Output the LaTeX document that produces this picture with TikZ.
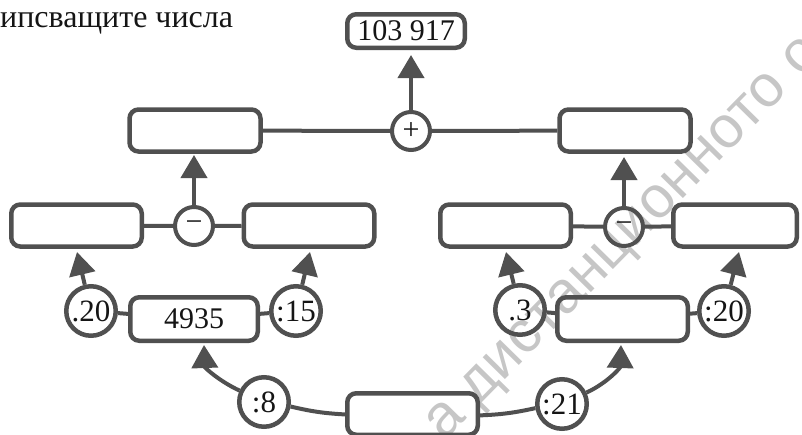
\documentclass[tikz,border=0pt]{standalone}
\usepackage{fontspec}
\setmainfont{Liberation Serif}
\newfontfamily\wmfamily{Liberation Sans}
\usetikzlibrary{arrows.meta}
\definecolor{lc}{HTML}{505050}
\definecolor{wm}{HTML}{C6C6C6}
\definecolor{tc}{HTML}{151515}

\begin{document}
\begin{tikzpicture}[x=1pt,y=-1pt,
  numbox/.style={draw=lc, line width=4.5pt, rounded corners=9pt,
    minimum width=131pt, minimum height=42pt, inner sep=0pt,
    text=tc, font=\fontsize{30}{32}\selectfont},
  opcirc/.style={circle, draw=lc, line width=4pt, minimum size=38pt,
    inner sep=0pt, text=tc, font=\fontsize{30}{32}\selectfont},
  lblcirc/.style={circle, draw=lc, line width=4.5pt, minimum size=49.5pt,
    inner sep=0pt, text=tc, font=\fontsize{31}{33}\selectfont},
  link/.style={draw=lc, line width=4pt},
  uparrow/.style={link, -{Triangle[width=26pt,length=23pt]}}
]
\useasboundingbox (0,0) rectangle (802,434);
\clip (0,0) rectangle (802,434);

% watermark beneath everything
\node[rotate=45.5, anchor=base west, inner sep=0pt, text=wm,
  font=\wmfamily\fontsize{59}{64}\selectfont] (wmark) at (444,442) {а дистанционното о};

% heading
\node[anchor=base west, inner sep=0pt, text=tc,
  font=\fontsize{32}{34}\selectfont] (title) at (0,27) {ипсващите числа};

% result
\node[numbox, minimum width=117.5pt, minimum height=33.5pt] (top) at (406,31) {103 917};

% upper row
\node[numbox] (ul) at (195,130.5) {};
\node[numbox] (ur) at (625,130.5) {};
\node[opcirc] (plus) at (411,131) {+};

% middle row
\node[numbox, minimum width=130.5pt] (l1) at (76.5,225.5) {};
\node[numbox, minimum width=130.5pt] (l2) at (309,225.5) {};
\node[opcirc] (ml) at (194,226) {−};
\node[numbox, minimum width=130.5pt] (r1) at (505.5,225.5) {};
\node[numbox, minimum width=123.5pt] (r2) at (735,225.5) {};
\node[opcirc] (mr) at (624,227) {−};

% lower row
\node[numbox, minimum width=127.5pt, minimum height=43.5pt] (b4935) at (194,319) {4935};
\node[numbox, minimum width=130.5pt, minimum height=43.5pt] (bright) at (622.5,319) {};
\node[lblcirc] (c20a) at (91,311) {.20};
\node[lblcirc] (c15) at (296,311) {:15};
\node[lblcirc] (c3) at (520,310) {.3};
\node[lblcirc] (c20b) at (724,311) {:20};

% bottom row
\node[numbox, minimum width=130.5pt, minimum height=41.5pt] (bottom) at (412.5,414) {};
\node[lblcirc] (c8) at (264,402) {:8};
\node[lblcirc] (c21) at (562,404) {:21};

% arrow ends just below the boxes
\coordinate (tTop) at (411,55);
\coordinate (tUL) at (194,155);
\coordinate (tUR) at (624,157);
\coordinate (tL1) at (77,252);
\coordinate (tL2) at (310,252);
\coordinate (tR1) at (506,252);
\coordinate (tR2) at (739,252);
\coordinate (t4935) at (204,345);
\coordinate (tBR) at (621,345);

% connectors
\draw[link] (ul) -- (plus) -- (ur);
\draw[uparrow] (plus) -- (tTop);
\draw[link] (l1) -- (ml) -- (l2);
\draw[uparrow] (ml) -- (tUL);
\draw[link] (r1) -- (mr) -- (r2);
\draw[uparrow] (mr) -- (tUR);

\draw[link] (c20a) -- (b4935) -- (c15);
\draw[link] (c3) -- (bright) -- (c20b);
\draw[uparrow] (c20a) -- (tL1);
\draw[uparrow] (c15) -- (tL2);
\draw[uparrow] (c3) -- (tR1);
\draw[uparrow] (c20b) -- (tR2);

\draw[link] (c8) to[bend right=5] (bottom) ;
\draw[link] (bottom) to[bend right=5] (c21);
\draw[uparrow] (c8) to[out=155,in=-88] (t4935);
\draw[uparrow] (c21) to[out=25,in=-92] (tBR);
\end{tikzpicture}
\end{document}
